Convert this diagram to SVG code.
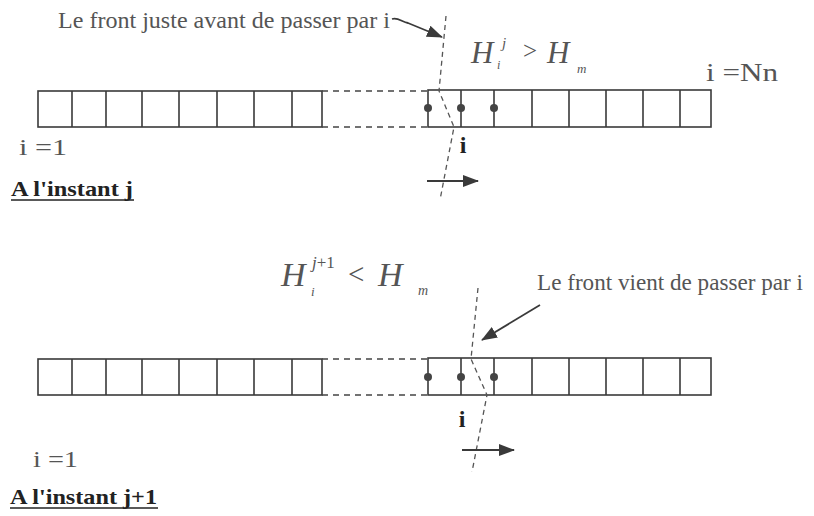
<svg xmlns="http://www.w3.org/2000/svg" width="814" height="516" viewBox="0 0 814 516">
<style>
.cell{fill:none;stroke:#3a3a3a;stroke-width:1.6}
.div{stroke:#3a3a3a;stroke-width:1.6}
.gap{stroke:#444;stroke-width:1.3;stroke-dasharray:6 5}
.front{fill:none;stroke:#555;stroke-width:1.3;stroke-dasharray:5 4}
.arr{stroke:#3a3a3a;stroke-width:1.8;fill:none}
.dot{fill:#444}
.t{font-family:"Liberation Serif","Times New Roman",serif;fill:#555}
.b{font-family:"Liberation Serif","Times New Roman",serif;font-weight:bold;fill:#222}
.m{font-family:"Liberation Serif","Times New Roman",serif;font-style:italic;fill:#555}
.u{stroke:#222;stroke-width:1.6}
</style>
<defs>
<marker id="ah" markerUnits="userSpaceOnUse" markerWidth="16" markerHeight="12" refX="15" refY="6" orient="auto">
<path d="M0,0 L16,6 L0,12 Z" fill="#3a3a3a"/>
</marker>
</defs>
<rect width="814" height="516" fill="#fff"/>

<g id="strip-top">
<rect class="cell" x="38" y="91" width="284" height="36"/>
<path class="div" d="M72,91V127M106,91V127M142,91V127M179,91V127M217,91V127M254,91V127M292,91V127"/>
<line class="gap" x1="322" y1="91" x2="428" y2="91"/>
<line class="gap" x1="322" y1="127" x2="428" y2="127"/>
<rect class="cell" x="428" y="90" width="283" height="37"/>
<path class="div" d="M461,90V127M494,90V127M532,90V127M569,90V127M606,90V127M643,90V127M680,90V127"/>
<circle class="dot" cx="428" cy="108" r="4"/>
<circle class="dot" cx="461" cy="108" r="4"/>
<circle class="dot" cx="494" cy="108" r="4"/>
</g>

<g id="strip-bottom">
<rect class="cell" x="38" y="359" width="284" height="36"/>
<path class="div" d="M72,359V395M106,359V395M142,359V395M179,359V395M217,359V395M254,359V395M292,359V395"/>
<line class="gap" x1="322" y1="359" x2="428" y2="359"/>
<line class="gap" x1="322" y1="395" x2="428" y2="395"/>
<rect class="cell" x="428" y="358" width="283" height="37"/>
<path class="div" d="M461,358V395M494,358V395M532,358V395M569,358V395M606,358V395M643,358V395M680,358V395"/>
<circle class="dot" cx="428" cy="377" r="4"/>
<circle class="dot" cx="461" cy="377" r="4"/>
<circle class="dot" cx="494" cy="377" r="4"/>
</g>

<g id="connectors">
<polyline class="front" points="446,16 439,91 454,127 440,200"/>
<polyline class="front" points="478,288 471,359 487,395 472,472"/>
<path class="arr" d="M392,19 C398,17 402,22 408,23 L442,37" marker-end="url(#ah)"/>
<line class="arr" x1="427" y1="181" x2="478" y2="181" marker-end="url(#ah)"/>
<line class="arr" x1="540" y1="305" x2="482" y2="340" marker-end="url(#ah)"/>
<line class="arr" x1="462" y1="450" x2="514" y2="450" marker-end="url(#ah)"/>
</g>

<g id="labels">
<text class="t" x="58" y="28" font-size="24" textLength="332" lengthAdjust="spacingAndGlyphs">Le front juste avant de passer par i</text>
<text class="t" x="706" y="81" font-size="25" textLength="72" lengthAdjust="spacingAndGlyphs">i =Nn</text>
<text class="t" x="19" y="155" font-size="24" textLength="48" lengthAdjust="spacingAndGlyphs">i =1</text>
<text class="b" x="11" y="196" font-size="21" textLength="122" lengthAdjust="spacingAndGlyphs">A l'instant j</text>
<line class="u" x1="11" y1="200" x2="134" y2="200"/>
<text class="b" x="463" y="153" font-size="24" text-anchor="middle">i</text>

<text class="m" x="471" y="63" font-size="31">H</text>
<text class="m" x="497" y="69" font-size="12">i</text>
<text class="m" x="502" y="48" font-size="15">j</text>
<text class="t" x="523" y="59" font-size="25">&gt;</text>
<text class="m" x="547" y="63" font-size="31">H</text>
<text class="m" x="577" y="73" font-size="13">m</text>

<text class="m" x="281" y="286" font-size="34">H</text>
<text class="m" x="311" y="296" font-size="13">i</text>
<text class="m" x="312" y="268" font-size="17">j<tspan font-style="normal">+1</tspan></text>
<text class="t" x="348" y="284" font-size="29">&lt;</text>
<text class="m" x="378" y="286" font-size="34">H</text>
<text class="m" x="418" y="295" font-size="14">m</text>

<text class="t" x="537" y="290" font-size="24" textLength="266" lengthAdjust="spacingAndGlyphs">Le front vient de passer par i</text>
<text class="b" x="462" y="427" font-size="24" text-anchor="middle">i</text>
<text class="t" x="33" y="467" font-size="24" textLength="45" lengthAdjust="spacingAndGlyphs">i =1</text>
<text class="b" x="10" y="504" font-size="21" textLength="147" lengthAdjust="spacingAndGlyphs">A l'instant j+1</text>
<line class="u" x1="10" y1="508" x2="158" y2="508"/>
</g>
</svg>
